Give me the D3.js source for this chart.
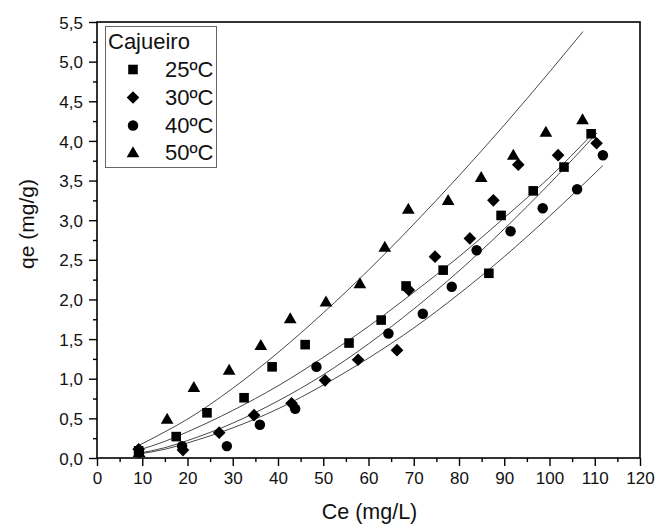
<!DOCTYPE html>
<html><head><meta charset="utf-8">
<script src="https://cdn.jsdelivr.net/npm/d3@7"></script>
<style>
body{margin:0;background:#fff}
svg{display:block}
text{font-family:Arial,"Liberation Sans",sans-serif;fill:#111}
</style>
</head><body>
<svg id="c" width="656" height="530"></svg>
<script>
// ---- data ----
const legendTitle = "Cajueiro";
const seriesNames = ["25ºC", "30ºC", "40ºC", "50ºC"];
const seriesSymbols = ["square", "diamond", "circle", "triangle"];

const ce25 = [9.2, 17.5, 24.3, 32.5, 38.7, 46.0, 55.7, 62.8, 68.3, 76.5, 86.6, 89.3, 96.4, 103.2, 109.2];
const qe25 = [0.09, 0.27, 0.57, 0.76, 1.15, 1.43, 1.45, 1.74, 2.17, 2.37, 2.33, 3.06, 3.37, 3.67, 4.09];
const ce30 = [9.2, 19.0, 27.0, 34.7, 43.0, 50.4, 57.7, 66.3, 68.9, 74.7, 82.4, 87.6, 93.1, 101.9, 110.4];
const qe30 = [0.11, 0.10, 0.32, 0.54, 0.69, 0.98, 1.24, 1.36, 2.12, 2.54, 2.77, 3.25, 3.70, 3.82, 3.97];
const ce40 = [9.3, 18.8, 28.7, 36.0, 43.8, 48.5, 64.4, 72.0, 78.4, 83.9, 91.4, 98.5, 106.1, 111.8];
const qe40 = [0.07, 0.15, 0.15, 0.42, 0.62, 1.15, 1.57, 1.82, 2.16, 2.62, 2.86, 3.15, 3.39, 3.82];
const ce50 = [9.3, 15.5, 21.4, 29.2, 36.2, 42.7, 50.6, 58.1, 63.6, 68.8, 77.6, 84.9, 92.0, 99.2, 107.3];
const qe50 = [0.07, 0.49, 0.89, 1.11, 1.42, 1.76, 1.97, 2.20, 2.66, 3.14, 3.25, 3.54, 3.82, 4.11, 4.27];

// fitted curves
const fitCe25 = [9.2, 15, 20, 30, 40, 50, 60, 70, 80, 90, 100, 109.2];
const fitQe25 = [0.10, 0.21, 0.33, 0.60, 0.91, 1.27, 1.66, 2.09, 2.54, 3.03, 3.54, 4.07];
const fitCe30 = [9.2, 15, 20, 30, 40, 50, 60, 70, 80, 90, 100, 110.5];
const fitQe30 = [0.06, 0.13, 0.22, 0.44, 0.72, 1.05, 1.44, 1.88, 2.36, 2.89, 3.46, 4.10];
const fitCe40 = [9.2, 15, 20, 30, 40, 50, 60, 70, 80, 90, 100, 111.8];
const fitQe40 = [0.05, 0.11, 0.19, 0.38, 0.62, 0.92, 1.26, 1.64, 2.07, 2.54, 3.05, 3.69];
const fitCe50 = [9.3, 15, 20, 30, 40, 50, 60, 70, 80, 90, 100, 107.4];
const fitQe50 = [0.16, 0.33, 0.49, 0.88, 1.33, 1.83, 2.37, 2.95, 3.56, 4.20, 4.87, 5.38];

const xTicks = [0, 10, 20, 30, 40, 50, 60, 70, 80, 90, 100, 110, 120];
const yTicks = [0, 0.5, 1.0, 1.5, 2.0, 2.5, 3.0, 3.5, 4.0, 4.5, 5.0, 5.5];
const xMinor = [5, 15, 25, 35, 45, 55, 65, 75, 85, 95, 105, 115];
const yMinor = [0.25, 0.75, 1.25, 1.75, 2.25, 2.75, 3.25, 3.75, 4.25, 4.75, 5.25];
const xTitle = "Ce (mg/L)";
const yTitle = "qe (mg/g)";

// ---- layout ----
const L = 97, R = 640, T = 22, B = 458;
const svg = d3.select("#c");
const x = d3.scaleLinear().domain([0, 120]).range([L, R]);
const y = d3.scaleLinear().domain([0, 5.5]).range([B, T]);

const fmtY = v => d3.format(".1f")(v).replace(".", ",");

// axes
const gx = svg.append("g").attr("transform", `translate(0,${B})`)
  .call(d3.axisBottom(x).tickValues(xTicks).tickSize(8).tickPadding(6).tickFormat(d3.format("d")));
const gxm = svg.append("g").attr("transform", `translate(0,${B})`)
  .call(d3.axisBottom(x).tickValues(xMinor).tickSize(4).tickFormat(""));
const gy = svg.append("g").attr("transform", `translate(${L},0)`)
  .call(d3.axisLeft(y).tickValues(yTicks).tickSize(8).tickPadding(6).tickFormat(fmtY));
const gym = svg.append("g").attr("transform", `translate(${L},0)`)
  .call(d3.axisLeft(y).tickValues(yMinor).tickSize(4).tickFormat(""));
[gx, gxm, gy, gym].forEach(g => {
  g.select(".domain").remove();
  g.selectAll(".tick line").attr("stroke", "#000").attr("stroke-width", 1.4);
  g.selectAll(".tick text").attr("font-size", 17).attr("fill", "#111")
    .attr("font-family", "Arial, 'Liberation Sans', sans-serif");
});
gy.selectAll(".tick text").attr("dy", "0.36em");

// frame
svg.append("rect").attr("x", L).attr("y", T).attr("width", R - L).attr("height", B - T)
  .attr("fill", "none").attr("stroke", "#000").attr("stroke-width", 1.6);

// fitted lines
const fits = [[fitCe25, fitQe25], [fitCe30, fitQe30], [fitCe40, fitQe40], [fitCe50, fitQe50]];
const line = d3.line().x(d => x(d[0])).y(d => y(d[1])).curve(d3.curveMonotoneX);
fits.forEach(([cx, cq]) => {
  svg.append("path").datum(cx.map((v, i) => [v, cq[i]]))
    .attr("d", line).attr("fill", "none").attr("stroke", "#333").attr("stroke-width", 0.9);
});

// symbols
const symPath = {
  square: d3.symbol().type(d3.symbolSquare).size(92)(),
  diamond: d3.symbol().type(d3.symbolSquare).size(80)(),
  circle: d3.symbol().type(d3.symbolCircle).size(86)(),
  triangle: d3.symbol().type(d3.symbolTriangle).size(70)()
};
const symRot = {square: 0, diamond: 45, circle: 0, triangle: 0};
const symDy = {square: 0, diamond: 0, circle: 0, triangle: 1};

const pts = [[ce25, qe25], [ce30, qe30], [ce40, qe40], [ce50, qe50]];
pts.forEach(([cx, cq], s) => {
  const k = seriesSymbols[s];
  svg.append("g").selectAll("path").data(cx.map((v, i) => [v, cq[i]])).join("path")
    .attr("d", symPath[k])
    .attr("transform", d => `translate(${x(d[0])},${y(d[1]) + symDy[k]}) rotate(${symRot[k]})`)
    .attr("fill", "#000");
});

// legend
const lg = svg.append("g");
lg.append("rect").attr("x", 105.5).attr("y", 26.5).attr("width", 111).attr("height", 141)
  .attr("fill", "#fff").attr("stroke", "#666").attr("stroke-width", 1);
lg.append("text").attr("x", 108).attr("y", 48.5).attr("font-size", 22).text(legendTitle);
const legY = [69.5, 97.5, 125.5, 152.5];
seriesNames.forEach((n, i) => {
  const k = seriesSymbols[i];
  lg.append("path").attr("d", symPath[k])
    .attr("transform", `translate(133,${legY[i] + symDy[k]}) rotate(${symRot[k]})`).attr("fill", "#000");
  lg.append("text").attr("x", 165).attr("y", legY[i] + 7.8).attr("font-size", 22).text(n);
});

// titles
svg.append("text").attr("x", (L + R) / 2 + 1).attr("y", 519).attr("text-anchor", "middle")
  .attr("font-size", 21.5).text(xTitle);
svg.append("text").attr("transform", "translate(34,224) rotate(-90)").attr("text-anchor", "middle")
  .attr("font-size", 21).text(yTitle);
</script>
</body></html>
